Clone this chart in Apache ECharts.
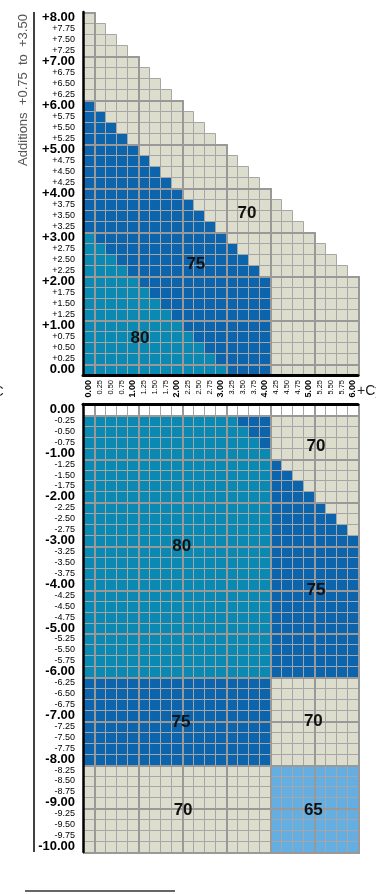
<!DOCTYPE html>
<html>
<head>
<meta charset="utf-8">
<script src="https://cdn.jsdelivr.net/npm/echarts@6/dist/echarts.min.js"></script>
<style>
  html, body { margin: 0; padding: 0; background: #fff; }
  #chart { width: 376px; height: 894px; }
</style>
</head>
<body>
<div id="chart"></div>
<script>
// cylinder columns
var cylLabels = ['0.00', '0.25', '0.50', '0.75', '1.00', '1.25', '1.50', '1.75', '2.00',
  '2.25', '2.50', '2.75', '3.00', '3.25', '3.50', '3.75', '4.00',
  '4.25', '4.50', '4.75', '5.00', '5.25', '5.50', '5.75', '6.00'];

// sphere rows, plus side (bottom -> top)
var plusSph = ['0.00', '+0.25', '+0.50', '+0.75', '+1.00', '+1.25', '+1.50', '+1.75', '+2.00',
  '+2.25', '+2.50', '+2.75', '+3.00', '+3.25', '+3.50', '+3.75', '+4.00',
  '+4.25', '+4.50', '+4.75', '+5.00', '+5.25', '+5.50', '+5.75', '+6.00',
  '+6.25', '+6.50', '+6.75', '+7.00', '+7.25', '+7.50', '+7.75', '+8.00'];

// sphere rows, minus side (top -> bottom)
var minusSph = ['0.00', '-0.25', '-0.50', '-0.75', '-1.00', '-1.25', '-1.50', '-1.75', '-2.00',
  '-2.25', '-2.50', '-2.75', '-3.00', '-3.25', '-3.50', '-3.75', '-4.00',
  '-4.25', '-4.50', '-4.75', '-5.00', '-5.25', '-5.50', '-5.75', '-6.00',
  '-6.25', '-6.50', '-6.75', '-7.00', '-7.25', '-7.50', '-7.75', '-8.00',
  '-8.25', '-8.50', '-8.75', '-9.00', '-9.25', '-9.50', '-9.75', '-10.00'];

// diameter per cell: T=80 B=75 G=70 L=65 W=none
// plus rows, from +8.00 down to 0.00 (spaces only group the columns)
var plusRows = [
  'G',
  'G G',
  'G GG',
  'G GGG',
  'G GGGG',
  'G GGGG G',
  'G GGGG GG',
  'G GGGG GGG',
  'B GGGG GGGG',
  'B BGGG GGGG G',
  'B BBGG GGGG GG',
  'B BBBG GGGG GGG',
  'B BBBB GGGG GGGG',
  'B BBBB BGGG GGGG G',
  'B BBBB BBGG GGGG GG',
  'B BBBB BBBG GGGG GGG',
  'B BBBB BBBB GGGG GGGG',
  'B BBBB BBBB BGGG GGGG G',
  'B BBBB BBBB BBGG GGGG GG',
  'B BBBB BBBB BBBG GGGG GGG',
  'T BBBB BBBB BBBB GGGG GGGG',
  'T TBBB BBBB BBBB BGGG GGGG G',
  'T TTBB BBBB BBBB BBGG GGGG GG',
  'T TTTB BBBB BBBB BBBG GGGG GGG',
  'T TTTT BBBB BBBB BBBB GGGG GGGG',
  'T TTTT TBBB BBBB BBBB GGGG GGGG',
  'T TTTT TTBB BBBB BBBB GGGG GGGG',
  'T TTTT TTTB BBBB BBBB GGGG GGGG',
  'T TTTT TTTT BBBB BBBB GGGG GGGG',
  'T TTTT TTTT TBBB BBBB GGGG GGGG',
  'T TTTT TTTT TTBB BBBB GGGG GGGG',
  'T TTTT TTTT TTTB BBBB GGGG GGGG',
  'T TTTT TTTT TTTT BBBB GGGG GGGG'
];

// minus rows, from 0.00 down to -10.00
var minusRows = [
  'W WWWW WWWW WWWW WWWW WWWW WWWW',
  'T TTTT TTTT TTTT TBBB GGGG GGGG',
  'T TTTT TTTT TTTT TTBB GGGG GGGG',
  'T TTTT TTTT TTTT TTTB GGGG GGGG',
  'T TTTT TTTT TTTT TTTT GGGG GGGG',
  'T TTTT TTTT TTTT TTTT BGGG GGGG',
  'T TTTT TTTT TTTT TTTT BBGG GGGG',
  'T TTTT TTTT TTTT TTTT BBBG GGGG',
  'T TTTT TTTT TTTT TTTT BBBB GGGG',
  'T TTTT TTTT TTTT TTTT BBBB BGGG',
  'T TTTT TTTT TTTT TTTT BBBB BBGG',
  'T TTTT TTTT TTTT TTTT BBBB BBBG',
  'T TTTT TTTT TTTT TTTT BBBB BBBB',
  'T TTTT TTTT TTTT TTTT BBBB BBBB',
  'T TTTT TTTT TTTT TTTT BBBB BBBB',
  'T TTTT TTTT TTTT TTTT BBBB BBBB',
  'T TTTT TTTT TTTT TTTT BBBB BBBB',
  'T TTTT TTTT TTTT TTTT BBBB BBBB',
  'T TTTT TTTT TTTT TTTT BBBB BBBB',
  'T TTTT TTTT TTTT TTTT BBBB BBBB',
  'T TTTT TTTT TTTT TTTT BBBB BBBB',
  'T TTTT TTTT TTTT TTTT BBBB BBBB',
  'T TTTT TTTT TTTT TTTT BBBB BBBB',
  'T TTTT TTTT TTTT TTTT BBBB BBBB',
  'T TTTT TTTT TTTT TTTT BBBB BBBB',
  'B BBBB BBBB BBBB BBBB GGGG GGGG',
  'B BBBB BBBB BBBB BBBB GGGG GGGG',
  'B BBBB BBBB BBBB BBBB GGGG GGGG',
  'B BBBB BBBB BBBB BBBB GGGG GGGG',
  'B BBBB BBBB BBBB BBBB GGGG GGGG',
  'B BBBB BBBB BBBB BBBB GGGG GGGG',
  'B BBBB BBBB BBBB BBBB GGGG GGGG',
  'B BBBB BBBB BBBB BBBB GGGG GGGG',
  'G GGGG GGGG GGGG GGGG LLLL LLLL',
  'G GGGG GGGG GGGG GGGG LLLL LLLL',
  'G GGGG GGGG GGGG GGGG LLLL LLLL',
  'G GGGG GGGG GGGG GGGG LLLL LLLL',
  'G GGGG GGGG GGGG GGGG LLLL LLLL',
  'G GGGG GGGG GGGG GGGG LLLL LLLL',
  'G GGGG GGGG GGGG GGGG LLLL LLLL',
  'G GGGG GGGG GGGG GGGG LLLL LLLL'
];

var codeValue = { T: 80, B: 75, G: 70, L: 65, W: 0 };

// zone labels (cyl, sph in dioptres)
var plusNoteText = ['70', '75', '80'];
var plusNoteCyl = [3.60, 2.44, 1.17];
var plusNoteSph = [3.56, 2.39, 0.72];

var minusNoteText = ['70', '80', '75', '75', '70', '70', '65'];
var minusNoteCyl = [5.17, 2.12, 5.17, 2.10, 5.11, 2.15, 5.11];
var minusNoteSph = [-0.85, -3.12, -4.13, -7.15, -7.13, -9.18, -9.18];

var STEP = 0.25;
var fillOf = { 80: '#0a8ab3', 75: '#0b64ac', 70: '#dcddcc', 65: '#64aee1', 0: '#ffffff' };
var FONT = '"Liberation Sans", Arial, sans-serif';

function buildCells(rows, plus) {
  var out = [];
  rows.forEach(function (row, i) {
    var codes = row.replace(/ /g, '');
    var r = plus ? rows.length - 1 - i : i;
    for (var c = 0; c < codes.length; c++) {
      out.push([c, r, codeValue[codes[c]]]);
    }
  });
  return out;
}

function cellRenderer(plus) {
  return function (params, api) {
    var c = api.value(0), r = api.value(1), v = api.value(2);
    var p = api.coord([c, r]);
    var s = api.size([1, 1]);
    var x0 = Math.round(p[0] - s[0] / 2), x1 = Math.round(p[0] + s[0] / 2);
    var y0 = Math.round(p[1] - s[1] / 2), y1 = Math.round(p[1] + s[1] / 2);
    var kids = [{
      type: 'rect',
      shape: { x: x0 + 0.5, y: y0 + 0.5, width: x1 - x0, height: y1 - y0 },
      style: { fill: fillOf[v], stroke: '#a6a6a6', lineWidth: 1 }
    }];
    // heavier line every whole dioptre
    if (c % 4 === 0) {
      kids.push({
        type: 'line', z2: 10,
        shape: { x1: x1 + 1, y1: y0, x2: x1 + 1, y2: y1 + 1 },
        style: { stroke: '#999999', lineWidth: 2 }
      });
    }
    if (r % 4 === 0) {
      var yy = plus ? y0 + 1 : y1 + 1;
      kids.push({
        type: 'line', z2: 10,
        shape: { x1: x0, y1: yy, x2: x1 + 2, y2: yy },
        style: { stroke: '#999999', lineWidth: 2 }
      });
    }
    return { type: 'group', children: kids };
  };
}

function noteRenderer(texts, cyls, sphs) {
  return function (params, api) {
    var i = params.dataIndex;
    var cx = cyls[i] / STEP, cy = Math.abs(sphs[i]) / STEP;
    var c0 = Math.floor(cx), r0 = Math.floor(cy);
    var a = api.coord([c0, r0]);
    var b = api.coord([c0 + 1, r0 + 1]);
    return {
      type: 'text', z2: 20,
      x: a[0] + (cx - c0) * (b[0] - a[0]),
      y: a[1] + (cy - r0) * (b[1] - a[1]),
      style: {
        text: texts[i], fill: '#111', fontSize: 17, fontWeight: 'bold',
        fontFamily: FONT, align: 'center', verticalAlign: 'middle'
      }
    };
  };
}

function boldWhole(v) {
  return /\.00$/.test(v) ? '{b|' + v + '}' : '{s|' + v + '}';
}

var yRich = {
  b: { fontSize: 13, fontWeight: 'bold', color: '#000', fontFamily: FONT },
  s: { fontSize: 9, color: '#000', fontFamily: FONT }
};
var xRich = {
  b: { fontSize: 9, fontWeight: 'bold', color: '#000', fontFamily: FONT },
  s: { fontSize: 7.5, color: '#000', fontFamily: FONT }
};

var myChart = echarts.init(document.getElementById('chart'), null, { renderer: 'canvas' });

var option = {
  animation: false,
  backgroundColor: '#fff',
  grid: [
    { left: 83, top: 12, width: 275, height: 363 },
    { left: 83, top: 404, width: 275, height: 448 }
  ],
  xAxis: [{
    gridIndex: 0, type: 'category', data: cylLabels, position: 'bottom', z: 10,
    axisLine: { lineStyle: { color: '#000', width: 3 } },
    axisTick: { show: false },
    splitLine: { show: false },
    axisLabel: { interval: 0, rotate: 90, margin: 5, formatter: boldWhole, rich: xRich }
  }, {
    gridIndex: 1, type: 'category', data: cylLabels, position: 'top', z: 10,
    axisLine: { lineStyle: { color: '#000', width: 3 } },
    axisTick: { show: false },
    splitLine: { show: false },
    axisLabel: { show: false }
  }],
  yAxis: [{
    gridIndex: 0, type: 'category', data: plusSph, z: 10,
    axisLine: { lineStyle: { color: '#000', width: 2.5 } },
    axisTick: { show: false },
    splitLine: { show: false },
    axisLabel: { interval: 0, margin: 8, formatter: boldWhole, rich: yRich }
  }, {
    gridIndex: 1, type: 'category', data: minusSph, inverse: true, z: 10,
    axisLine: { lineStyle: { color: '#000', width: 2.5 } },
    axisTick: { show: false },
    splitLine: { show: false },
    axisLabel: { interval: 0, margin: 8, formatter: boldWhole, rich: yRich }
  }],
  series: [{
    type: 'custom', xAxisIndex: 0, yAxisIndex: 0, z: 2,
    renderItem: cellRenderer(true),
    data: buildCells(plusRows, true)
  }, {
    type: 'custom', xAxisIndex: 1, yAxisIndex: 1, z: 2,
    renderItem: cellRenderer(false),
    data: buildCells(minusRows, false)
  }, {
    type: 'custom', xAxisIndex: 0, yAxisIndex: 0, z: 3,
    renderItem: noteRenderer(plusNoteText, plusNoteCyl, plusNoteSph),
    data: plusNoteText.map(function (t, i) { return [0, 0, i]; })
  }, {
    type: 'custom', xAxisIndex: 1, yAxisIndex: 1, z: 3,
    renderItem: noteRenderer(minusNoteText, minusNoteCyl, minusNoteSph),
    data: minusNoteText.map(function (t, i) { return [0, 0, i]; })
  }],
  graphic: [
    { type: 'line', shape: { x1: 34, y1: 12, x2: 34, y2: 852 }, style: { stroke: '#000', lineWidth: 1.5 } },
    { type: 'line', shape: { x1: 25, y1: 891, x2: 175, y2: 891 }, style: { stroke: '#333', lineWidth: 1.5 } },
    {
      type: 'text', x: 23, y: 90, rotation: Math.PI / 2,
      style: { text: 'Additions  +0.75  to  +3.50', fill: '#555', fontSize: 13, fontFamily: FONT, align: 'center', verticalAlign: 'middle' }
    },
    {
      type: 'text', x: -7, y: 392,
      style: { text: 'C', fill: '#222', fontSize: 15, fontFamily: FONT, align: 'left', verticalAlign: 'middle' }
    },
    {
      type: 'text', x: 357, y: 391,
      style: { text: '+Cyl', fill: '#222', fontSize: 14, fontFamily: FONT, align: 'left', verticalAlign: 'middle' }
    }
  ]
};

myChart.setOption(option);
</script>
</body>
</html>
